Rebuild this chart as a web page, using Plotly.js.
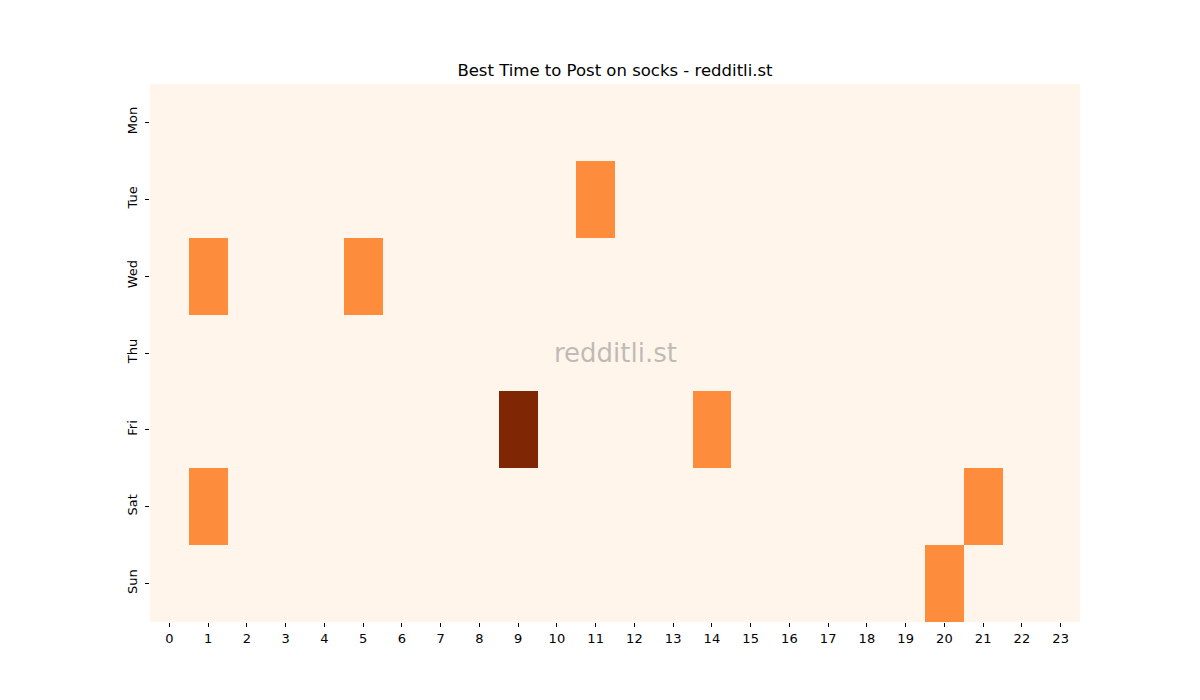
<!DOCTYPE html>
<html>
<head>
<meta charset="utf-8">
<script src="https://cdn.plot.ly/plotly-3.0.1.min.js"></script>
<style>
  body { margin: 0; background: #fff; }
  #chart { width: 1200px; height: 700px; }
</style>
</head>
<body>
<div id="chart"></div>
<script>
// Hours along the bottom, days down the side
const hours = [0, 1, 2, 3, 4, 5, 6, 7, 8, 9, 10, 11, 12, 13, 14, 15, 16, 17, 18, 19, 20, 21, 22, 23];
const days = ['Mon', 'Tue', 'Wed', 'Thu', 'Fri', 'Sat', 'Sun'];

// Post counts per hour, one row per day
const mon = [0, 0, 0, 0, 0, 0, 0, 0, 0, 0, 0, 0, 0, 0, 0, 0, 0, 0, 0, 0, 0, 0, 0, 0];
const tue = [0, 0, 0, 0, 0, 0, 0, 0, 0, 0, 0, 1, 0, 0, 0, 0, 0, 0, 0, 0, 0, 0, 0, 0];
const wed = [0, 1, 0, 0, 0, 1, 0, 0, 0, 0, 0, 0, 0, 0, 0, 0, 0, 0, 0, 0, 0, 0, 0, 0];
const thu = [0, 0, 0, 0, 0, 0, 0, 0, 0, 0, 0, 0, 0, 0, 0, 0, 0, 0, 0, 0, 0, 0, 0, 0];
const fri = [0, 0, 0, 0, 0, 0, 0, 0, 0, 2, 0, 0, 0, 0, 1, 0, 0, 0, 0, 0, 0, 0, 0, 0];
const sat = [0, 1, 0, 0, 0, 0, 0, 0, 0, 0, 0, 0, 0, 0, 0, 0, 0, 0, 0, 0, 0, 1, 0, 0];
const sun = [0, 0, 0, 0, 0, 0, 0, 0, 0, 0, 0, 0, 0, 0, 0, 0, 0, 0, 0, 0, 1, 0, 0, 0];

const heat = {
    type: 'heatmap',
    x: hours,
    y: days,
    z: [mon, tue, wed, thu, fri, sat, sun],
    zmin: 0,
    zmax: 2,
    colorscale: [[0, '#fff5eb'], [0.5, '#fd8d3c'], [1, '#7f2704']],
    showscale: false,
    hoverinfo: 'x+y+z'
};

const layout = {
    width: 1200,
    height: 700,
    paper_bgcolor: '#ffffff',
    plot_bgcolor: '#ffffff',
    font: { family: 'DejaVu Sans', size: 13, color: '#000' },
    title: {
        text: 'Best Time to Post on socks - redditli.st',
        font: { size: 16.5, color: '#000' },
        xref: 'paper',
        x: 0.5,
        xanchor: 'center',
        y: 0.9,
        yanchor: 'middle'
    },
    margin: { l: 150, r: 120, t: 84, b: 78 },
    xaxis: {
        tickmode: 'array',
        tickvals: hours,
        ticktext: hours.map(String),
        ticks: 'outside',
        ticklen: 4,
        tickcolor: '#000',
        showgrid: false,
        zeroline: false,
        showline: false,
        range: [-0.5, 23.5]
    },
    yaxis: {
        autorange: 'reversed',
        ticks: 'outside',
        ticklen: 4,
        tickcolor: '#000',
        tickangle: -90,
        ticklabelstandoff: 3,
        showgrid: false,
        zeroline: false,
        showline: false
    },
    annotations: [{
        text: 'redditli.st',
        xref: 'paper',
        yref: 'paper',
        x: 0.5,
        y: 0.5,
        showarrow: false,
        font: { size: 26, color: 'rgba(128,128,128,0.5)' }
    }]
};

Plotly.newPlot('chart', [heat], layout, { displayModeBar: false });
</script>
</body>
</html>
